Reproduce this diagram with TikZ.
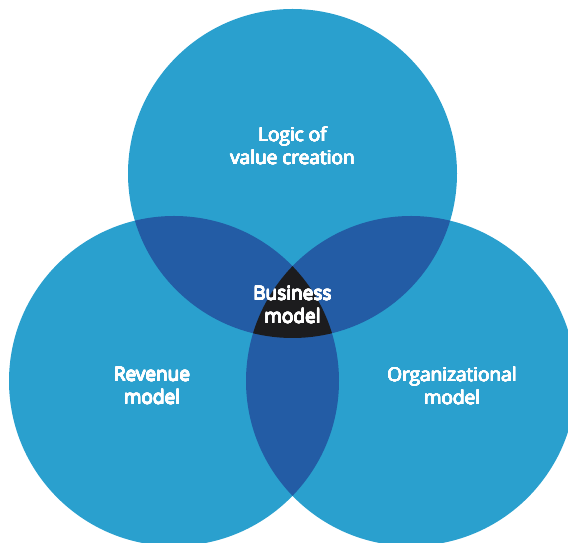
\documentclass[tikz,border=0pt]{standalone}
\usepackage{fontspec}
\usepackage{contour}
\contourlength{0.35pt}
\contournumber{16}
\setmainfont{Fira Sans}
\newfontfamily\lblfont{Open Sans}
\newcommand{\thk}[1]{\contour{white}{#1}}
\definecolor{lightblue}{HTML}{2AA0CE}
\definecolor{darkblue}{HTML}{235CA5}
\definecolor{coreblack}{HTML}{1C1C1E}
\tikzset{
  lbl/.style={text=white, align=center, font=\lblfont\fontsize{19}{23}\selectfont},
}
\begin{document}
\begin{tikzpicture}[x=1pt,y=1pt]
\useasboundingbox (0,0) rectangle (568,543);
\def\topc{(292.5,369.5) circle (164.5)}
\def\leftc{(174,162) circle (165)}
\def\rightc{(411,162) circle (165)}
\clip (0,0) rectangle (568,543);
\fill[lightblue] \topc;
\fill[lightblue] \leftc;
\fill[lightblue] \rightc;
\begin{scope}
  \clip \topc;
  \fill[darkblue] \leftc;
  \fill[darkblue] \rightc;
\end{scope}
\begin{scope}
  \clip \leftc;
  \fill[darkblue] \rightc;
\end{scope}
\begin{scope}
  \clip \topc;
  \clip \leftc;
  \fill[coreblack] \rightc;
\end{scope}
\node[lbl] (logic) at (292.5,397) {\thk{Logic of}\\\thk{value creation}};
\node[lbl] (business) at (292.5,238) {\thk{Business}\\\thk{model}};
\node[lbl] (revenue) at (152,157) {\thk{Revenue}\\\thk{model}};
\node[lbl] (org) at (452,157) {\thk{Organizational}\\\thk{model}};
\end{tikzpicture}
\end{document}
